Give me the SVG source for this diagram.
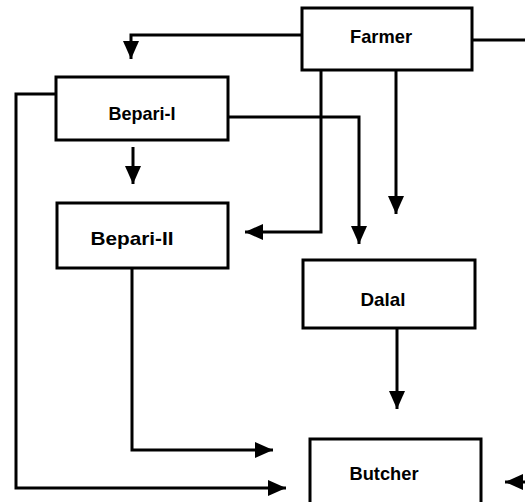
<svg xmlns="http://www.w3.org/2000/svg" width="525" height="502" viewBox="0 0 525 502">
<defs>
<style>
.box{fill:#fff;stroke:#000;stroke-width:3}
.lbl{font-family:"Liberation Sans",Arial,sans-serif;font-size:19px;font-weight:bold;fill:#000;text-anchor:middle}
.ln{fill:none;stroke:#000;stroke-width:3;stroke-linejoin:miter}
</style>
<marker id="ah" viewBox="0 0 18 16" refX="18" refY="8" markerWidth="18" markerHeight="16" markerUnits="userSpaceOnUse" orient="auto">
<path d="M0,0 L18,8 L0,16 Z" fill="#000"/>
</marker>
</defs>
<rect width="525" height="502" fill="#fff"/>
<g id="connectors">
<path class="ln" d="M302,35 H131 V59" marker-end="url(#ah)"/>
<path class="ln" d="M472,40 H525"/>
<path class="ln" d="M56,94 H16 V488 H286" marker-end="url(#ah)"/>
<path class="ln" d="M228,117 H359 V244" marker-end="url(#ah)"/>
<path class="ln" d="M133,147 V184" marker-end="url(#ah)"/>
<path class="ln" d="M321,70 V232 H245" marker-end="url(#ah)"/>
<path class="ln" d="M396,70 V214" marker-end="url(#ah)"/>
<path class="ln" d="M397,328 V409" marker-end="url(#ah)"/>
<path class="ln" d="M132,268 V450 H273" marker-end="url(#ah)"/>
<path class="ln" d="M525,482 H505" marker-end="url(#ah)"/>
</g>
<g id="farmer">
<rect class="box" x="302" y="8" width="170" height="62"/>
<text class="lbl" x="381" y="43" textLength="62" lengthAdjust="spacingAndGlyphs">Farmer</text>
</g>
<g id="bepari1">
<rect class="box" x="56" y="77" width="172" height="63"/>
<text class="lbl" x="142" y="120" textLength="67" lengthAdjust="spacingAndGlyphs">Bepari-I</text>
</g>
<g id="bepari2">
<rect class="box" x="57" y="203" width="171" height="65"/>
<text class="lbl" x="132" y="245" textLength="83" lengthAdjust="spacingAndGlyphs">Bepari-II</text>
</g>
<g id="dalal">
<rect class="box" x="303" y="260" width="172" height="68"/>
<text class="lbl" x="383" y="306" textLength="45" lengthAdjust="spacingAndGlyphs">Dalal</text>
</g>
<g id="butcher">
<rect class="box" x="310" y="439" width="171" height="75"/>
<text class="lbl" x="384" y="480" textLength="69" lengthAdjust="spacingAndGlyphs">Butcher</text>
</g>
</svg>
